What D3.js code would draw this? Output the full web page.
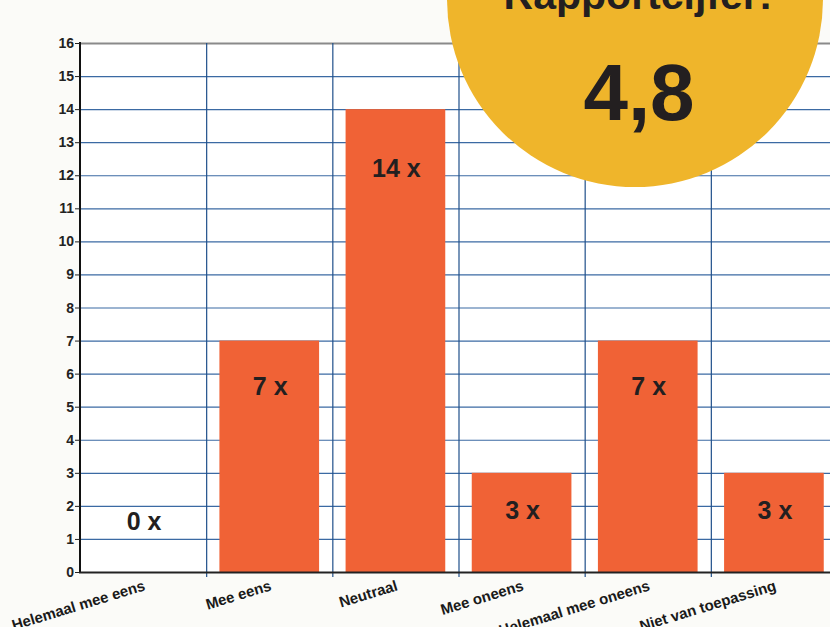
<!DOCTYPE html>
<html>
<head>
<meta charset="utf-8">
<script src="https://cdn.jsdelivr.net/npm/d3@7"></script>
<style>
  html, body { margin: 0; padding: 0; background: #fbfbf8; }
  svg { display: block; font-family: 'Liberation Sans', Arial, sans-serif; }
</style>
</head>
<body>
<svg id="chart" width="830" height="627"></svg>
<script>
'use strict';

// data
const categories = [ 'Helemaal mee eens', 'Mee eens', 'Neutraal', 'Mee oneens', 'Helemaal mee oneens', 'Niet van toepassing' ],
      counts     = [ 0, 7, 14, 3, 7, 3 ],
      yTicks     = d3.range( 0, 17 ),
      badgeTitle = 'Rapportcijfer:',
      badgeValue = '4,8';

const param = {
  width:  830,
  height: 627,
  margin: { top: 43, left: 80, bottom: 54 },
  bandEnd: 837
};

const svg = d3.select( '#chart' );

// scales
const x = d3.scaleBand()
            .domain( categories )
            .range( [ param.margin.left, param.bandEnd ] )
            .padding( 0 ),
      y = d3.scaleLinear()
            .domain( [ 0, 16 ] )
            .range( [ param.height - param.margin.bottom - 1, param.margin.top ] );

const y0 = y( 0 ),
      yTop = y( 16 ),
      bw = x.bandwidth();

// plot background
svg.append( 'rect' )
    .attr( 'x', param.margin.left )
    .attr( 'y', yTop )
    .attr( 'width', param.width - param.margin.left )
    .attr( 'height', y0 - yTop )
    .style( 'fill', '#fff' );

// horizontal grid
svg.append( 'g' )
    .attr( 'class', 'hgrid' )
  .selectAll( 'line' )
    .data( yTicks.filter( (d) => d > 0 ) )
  .enter().append( 'line' )
    .attr( 'x1', param.margin.left )
    .attr( 'x2', param.width )
    .attr( 'y1', (d) => y( d ) + 0.5 )
    .attr( 'y2', (d) => y( d ) + 0.5 )
    .style( 'stroke', (d) => d === 16 ? '#8a8a8a' : '#3b6aa3' )
    .style( 'stroke-width', (d) => d === 16 ? 2 : 1.2 );

// vertical grid, running a little below the axis as ticks
svg.append( 'g' )
    .attr( 'class', 'vgrid' )
  .selectAll( 'line' )
    .data( categories.slice( 1 ) )
  .enter().append( 'line' )
    .attr( 'x1', (d) => x( d ) + 0.5 )
    .attr( 'x2', (d) => x( d ) + 0.5 )
    .attr( 'y1', yTop )
    .attr( 'y2', y0 + 5 )
    .style( 'stroke', '#1f4f8a' )
    .style( 'stroke-width', 1.2 );

// bars
svg.append( 'g' )
    .attr( 'class', 'bars' )
  .selectAll( 'rect' )
    .data( counts )
  .enter().append( 'rect' )
    .attr( 'x', (d, i) => x( categories[i] ) + bw * 0.105 )
    .attr( 'width', bw * 0.79 )
    .attr( 'y', (d) => y( d ) )
    .attr( 'height', (d) => y0 - y( d ) )
    .style( 'fill', '#f06236' );

// bar labels: sit a bit lower in taller bars, never below ~1.5
svg.append( 'g' )
    .attr( 'class', 'bar-labels' )
  .selectAll( 'text' )
    .data( counts )
  .enter().append( 'text' )
    .attr( 'x', (d, i) => x( categories[i] ) + bw / 2 + 1 )
    .attr( 'y', (d) => y( Math.max( d - 0.95 - 0.06 * d, 1.55 ) ) + 9 )
    .style( 'text-anchor', 'middle' )
    .style( 'font-size', '25px' )
    .style( 'font-weight', 'bold' )
    .style( 'fill', '#231f20' )
    .text( (d) => d + ' x' );

// y-axis
svg.append( 'line' )
    .attr( 'x1', param.margin.left )
    .attr( 'x2', param.margin.left )
    .attr( 'y1', yTop - 1 )
    .attr( 'y2', y0 + 1 )
    .style( 'stroke', '#111' )
    .style( 'stroke-width', 2 );

const yAxis = svg.append( 'g' ).attr( 'class', 'y axis' );
yAxis.selectAll( 'line' )
    .data( yTicks )
  .enter().append( 'line' )
    .attr( 'x1', param.margin.left - 5 )
    .attr( 'x2', param.margin.left )
    .attr( 'y1', (d) => y( d ) + 0.5 )
    .attr( 'y2', (d) => y( d ) + 0.5 )
    .style( 'stroke', '#222' );
yAxis.selectAll( 'text' )
    .data( yTicks )
  .enter().append( 'text' )
    .attr( 'x', param.margin.left - 6 )
    .attr( 'y', (d) => y( d ) + 5 )
    .style( 'text-anchor', 'end' )
    .style( 'font-size', '14px' )
    .style( 'font-weight', 'bold' )
    .style( 'fill', '#222' )
    .text( (d) => d );

// x-axis
svg.append( 'line' )
    .attr( 'x1', param.margin.left - 1 )
    .attr( 'x2', param.width )
    .attr( 'y1', y0 + 0.5 )
    .attr( 'y2', y0 + 0.5 )
    .style( 'stroke', '#222' )
    .style( 'stroke-width', 2 );

svg.append( 'g' )
    .attr( 'class', 'x labels' )
  .selectAll( 'text' )
    .data( categories )
  .enter().append( 'text' )
    .attr( 'transform', (d) => `translate( ${x( d ) + bw / 2 + 3} ${y0 + 18} ) rotate(-17)` )
    .style( 'text-anchor', 'end' )
    .style( 'font-size', '15px' )
    .style( 'font-weight', 'bold' )
    .style( 'fill', '#1a1a1a' )
    .text( (d) => d );

// badge
const badge = svg.append( 'g' ).attr( 'class', 'badge' );
badge.append( 'circle' )
    .attr( 'cx', 635 )
    .attr( 'cy', -1 )
    .attr( 'r', 188 )
    .style( 'fill', '#efb52b' );
badge.append( 'text' )
    .attr( 'x', 638 )
    .attr( 'y', 9 )
    .style( 'text-anchor', 'middle' )
    .style( 'font-size', '41px' )
    .style( 'font-weight', 'bold' )
    .style( 'fill', '#231f20' )
    .text( badgeTitle );
badge.append( 'text' )
    .attr( 'x', 639 )
    .attr( 'y', 120 )
    .style( 'text-anchor', 'middle' )
    .style( 'font-size', '80px' )
    .style( 'font-weight', 'bold' )
    .style( 'fill', '#231f20' )
    .text( badgeValue );
</script>
</body>
</html>
